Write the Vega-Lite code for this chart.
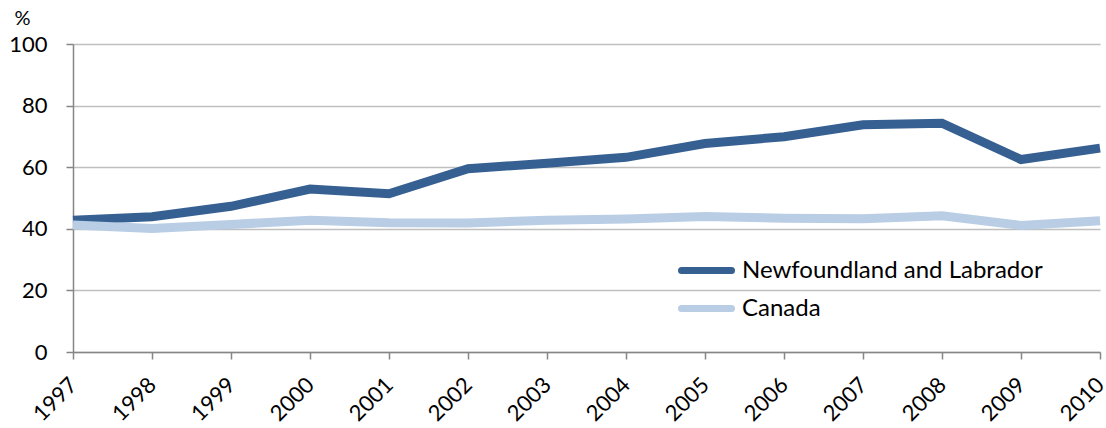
{
  "$schema": "https://vega.github.io/schema/vega-lite/v6.json",
  "width": 1027,
  "height": 308,
  "autosize": {"type": "none"},
  "padding": {"left": 73, "top": 44, "right": 6, "bottom": 76},
  "background": "white",
  "config": {
    "font": "Lato",
    "view": {"stroke": null}
  },
  "data": {
    "values": [
      {"year": 1997, "series": "Newfoundland and Labrador", "value": 42.8},
      {"year": 1998, "series": "Newfoundland and Labrador", "value": 43.9},
      {"year": 1999, "series": "Newfoundland and Labrador", "value": 47.3},
      {"year": 2000, "series": "Newfoundland and Labrador", "value": 52.9},
      {"year": 2001, "series": "Newfoundland and Labrador", "value": 51.4},
      {"year": 2002, "series": "Newfoundland and Labrador", "value": 59.5},
      {"year": 2003, "series": "Newfoundland and Labrador", "value": 61.3},
      {"year": 2004, "series": "Newfoundland and Labrador", "value": 63.2},
      {"year": 2005, "series": "Newfoundland and Labrador", "value": 67.7},
      {"year": 2006, "series": "Newfoundland and Labrador", "value": 69.9},
      {"year": 2007, "series": "Newfoundland and Labrador", "value": 73.8},
      {"year": 2008, "series": "Newfoundland and Labrador", "value": 74.3},
      {"year": 2009, "series": "Newfoundland and Labrador", "value": 62.5},
      {"year": 2010, "series": "Newfoundland and Labrador", "value": 66.2},
      {"year": 1997, "series": "Canada", "value": 41.2},
      {"year": 1998, "series": "Canada", "value": 40.1},
      {"year": 1999, "series": "Canada", "value": 41.4},
      {"year": 2000, "series": "Canada", "value": 42.8},
      {"year": 2001, "series": "Canada", "value": 42.0},
      {"year": 2002, "series": "Canada", "value": 41.9},
      {"year": 2003, "series": "Canada", "value": 42.8},
      {"year": 2004, "series": "Canada", "value": 43.2},
      {"year": 2005, "series": "Canada", "value": 44.0},
      {"year": 2006, "series": "Canada", "value": 43.4},
      {"year": 2007, "series": "Canada", "value": 43.3},
      {"year": 2008, "series": "Canada", "value": 44.2},
      {"year": 2009, "series": "Canada", "value": 41.1},
      {"year": 2010, "series": "Canada", "value": 42.6}
    ]
  },
  "mark": {"type": "line", "strokeWidth": 9, "strokeCap": "butt", "strokeJoin": "miter"},
  "encoding": {
    "x": {
      "field": "year",
      "type": "quantitative",
      "scale": {"domain": [1997, 2010], "nice": false, "zero": false},
      "axis": {
        "title": null,
        "values": [1997, 1998, 1999, 2000, 2001, 2002, 2003, 2004, 2005, 2006, 2007, 2008, 2009, 2010],
        "format": "d",
        "grid": false,
        "domainColor": "#868686",
        "domainWidth": 1.5,
        "tickColor": "#868686",
        "tickWidth": 1.5,
        "tickSize": 7,
        "labelAngle": -45,
        "labelAlign": "right",
        "labelBaseline": "middle",
        "labelFontSize": 22,
        "labelColor": "#000000",
        "labelPadding": 22,
        "labelFlush": false,
        "labelOverlap": false
      }
    },
    "y": {
      "field": "value",
      "type": "quantitative",
      "scale": {"domain": [0, 100], "nice": false},
      "axis": {
        "title": "%",
        "titleAngle": 0,
        "titleAlign": "center",
        "titleBaseline": "middle",
        "titleX": -51,
        "titleY": -26,
        "titleFontSize": 20,
        "titleFontWeight": "normal",
        "titleColor": "#000000",
        "values": [0, 20, 40, 60, 80, 100],
        "grid": true,
        "gridColor": "#BFBFBF",
        "gridWidth": 1.5,
        "domainColor": "#868686",
        "domainWidth": 1.5,
        "tickColor": "#868686",
        "tickWidth": 1.5,
        "tickSize": 7,
        "labelFontSize": 22,
        "labelColor": "#000000",
        "labelPadding": 19
      }
    },
    "color": {
      "field": "series",
      "type": "nominal",
      "scale": {
        "domain": ["Newfoundland and Labrador", "Canada"],
        "range": ["#376092", "#B9CDE5"]
      },
      "legend": {
        "title": null,
        "orient": "none",
        "legendX": 610,
        "legendY": 203,
        "symbolType": "M-1.25,0H1.25",
        "symbolSize": 1600,
        "symbolStrokeWidth": 7,
        "labelFontSize": 24,
        "labelLimit": 500,
        "labelColor": "#000000",
        "labelOffset": 12,
        "rowPadding": 0,
        "encode": {"symbols": {"update": {"strokeCap": {"value": "round"}}}}
      }
    }
  }
}
